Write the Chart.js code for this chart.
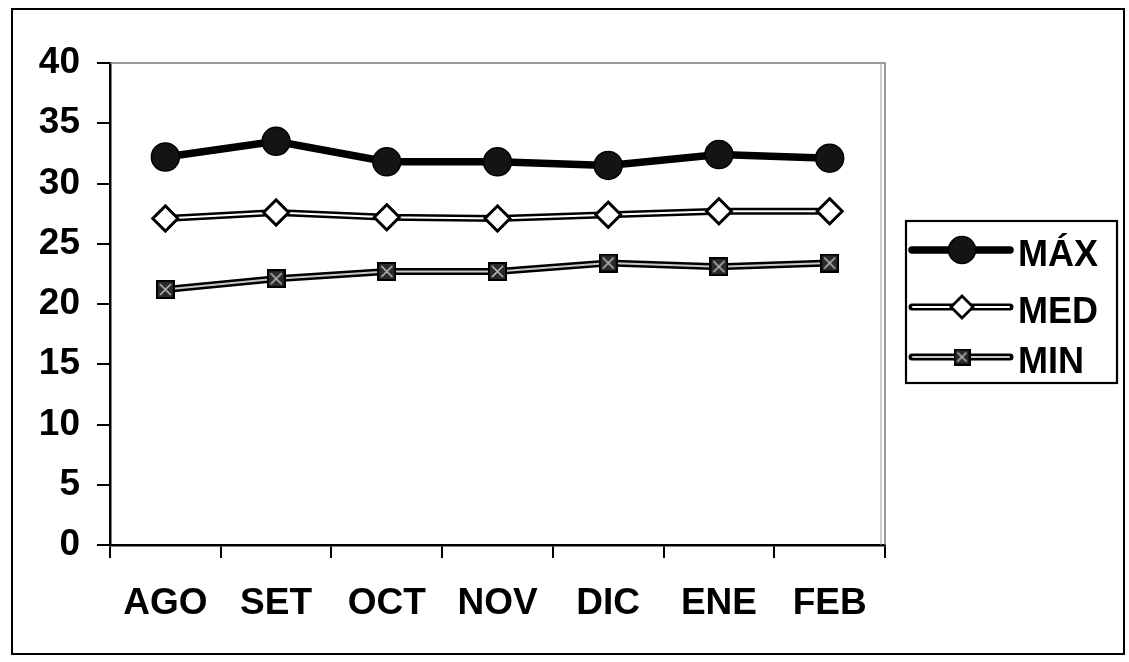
<!DOCTYPE html>
<html>
<head>
<meta charset="utf-8">
<script src="https://cdn.jsdelivr.net/npm/chart.js@4/dist/chart.umd.min.js"></script>
<style>
  html, body { margin: 0; padding: 0; background: #fff; }
  #wrap { position: relative; width: 1129px; height: 662px; }
  #frame { position: absolute; left: 11px; top: 8px; width: 1110px; height: 643px; border: 2.5px solid #000; pointer-events: none; }
  canvas { position: absolute; left: 0; top: 0; }
</style>
</head>
<body>
<div id="wrap">
  <canvas id="c" width="1129" height="662"></canvas>
  <div id="frame"></div>
</div>
<script>
// ---- data ----
const categories = ['AGO', 'SET', 'OCT', 'NOV', 'DIC', 'ENE', 'FEB'];
const maxValues = [32.2, 33.5, 31.8, 31.8, 31.5, 32.4, 32.1];
const medValues = [27.1, 27.6, 27.2, 27.1, 27.4, 27.7, 27.7];
const minValues = [21.2, 22.1, 22.7, 22.7, 23.4, 23.1, 23.4];
const seriesLabels = ['MÁX', 'MED', 'MIN'];
const yTickValues = [0, 5, 10, 15, 20, 25, 30, 35, 40];

const FONT = '"Liberation Sans", Arial, Helvetica, sans-serif';

// square marker with a light X for MIN
function makeCrossSquare(size) {
  const c = document.createElement('canvas');
  c.width = size; c.height = size;
  const g = c.getContext('2d');
  g.fillStyle = '#2a2a2a';
  g.fillRect(0, 0, size, size);
  g.strokeStyle = '#b8b8b8';
  g.lineWidth = 1.6;
  g.beginPath();
  g.moveTo(4, 4); g.lineTo(size - 4, size - 4);
  g.moveTo(size - 4, 4); g.lineTo(4, size - 4);
  g.stroke();
  g.strokeStyle = '#000';
  g.lineWidth = 2;
  g.strokeRect(1, 1, size - 2, size - 2);
  return c;
}
const minMarker = makeCrossSquare(19);
const minMarkerLegend = makeCrossSquare(17);

// inner stripe for double lines, then redraw points on top
const innerLinePlugin = {
  id: 'innerLine',
  afterDatasetDraw(chart, args) {
    const ds = chart.data.datasets[args.index];
    if (!ds.innerColor) return;
    const meta = args.meta;
    const ctx = chart.ctx;
    ctx.save();
    ctx.strokeStyle = ds.innerColor;
    ctx.lineWidth = ds.innerWidth;
    ctx.lineJoin = 'round';
    ctx.beginPath();
    meta.data.forEach((p, i) => { if (i === 0) ctx.moveTo(p.x, p.y); else ctx.lineTo(p.x, p.y); });
    ctx.stroke();
    ctx.restore();
    meta.data.forEach(p => p.draw(ctx, chart.chartArea));
  }
};

// plot-area gray border (top & right)
const plotBorderPlugin = {
  id: 'plotBorder',
  beforeDatasetsDraw(chart) {
    const a = chart.chartArea, ctx = chart.ctx;
    ctx.save();
    ctx.strokeStyle = '#7a7a7a';
    ctx.lineWidth = 1.5;
    ctx.beginPath();
    ctx.moveTo(a.left, a.top); ctx.lineTo(a.right, a.top); ctx.lineTo(a.right, a.bottom);
    ctx.stroke();
    ctx.strokeStyle = '#9a9a9a';
    ctx.lineWidth = 1;
    ctx.beginPath();
    ctx.moveTo(a.right - 4, a.top); ctx.lineTo(a.right - 4, a.bottom);
    ctx.stroke();
    ctx.restore();
  }
};

// legend with line + marker samples
const lineLegendPlugin = {
  id: 'lineLegend',
  afterDraw(chart) {
    const ctx = chart.ctx;
    const bx = 906, by = 221, bw = 211, bh = 162;
    ctx.save();
    ctx.strokeStyle = '#000';
    ctx.lineWidth = 2.2;
    ctx.strokeRect(bx, by, bw, bh);
    const rows = [250, 307, 357];
    chart.data.datasets.forEach((ds, i) => {
      const y = rows[i];
      ctx.strokeStyle = ds.borderColor;
      ctx.lineWidth = ds.borderWidth;
      ctx.lineCap = 'round';
      ctx.beginPath(); ctx.moveTo(912, y); ctx.lineTo(1010, y); ctx.stroke();
      if (ds.innerColor) {
        ctx.strokeStyle = ds.innerColor;
        ctx.lineWidth = ds.innerWidth;
        ctx.beginPath(); ctx.moveTo(913, y); ctx.lineTo(1009, y); ctx.stroke();
      }
      ctx.lineCap = 'butt';
      ctx.fillStyle = ds.pointBackgroundColor;
      ctx.strokeStyle = ds.pointBorderColor;
      ctx.lineWidth = ds.pointBorderWidth;
      Chart.helpers.drawPoint(ctx, {
        pointStyle: ds.legendPointStyle || ds.pointStyle,
        radius: ds.legendRadius,
        rotation: 0,
        borderWidth: ds.pointBorderWidth
      }, 962, y);
      ctx.fillStyle = '#000';
      ctx.font = 'bold 36px ' + FONT;
      ctx.textAlign = 'left';
      ctx.textBaseline = 'middle';
      ctx.fillText(ds.label, 1018, y + 6);
    });
    ctx.restore();
  }
};

new Chart(document.getElementById('c'), {
  type: 'line',
  data: {
    labels: categories,
    datasets: [
      {
        label: seriesLabels[0], data: maxValues,
        borderColor: '#000', borderWidth: 7.5,
        pointStyle: 'circle', pointRadius: 14, legendRadius: 13.5,
        pointBackgroundColor: '#141414', pointBorderColor: '#000', pointBorderWidth: 1.5,
        tension: 0
      },
      {
        label: seriesLabels[1], data: medValues,
        borderColor: '#000', borderWidth: 7, innerColor: '#fff', innerWidth: 2,
        pointStyle: 'rectRot', pointRadius: 12.5, legendRadius: 11,
        pointBackgroundColor: '#fff', pointBorderColor: '#000', pointBorderWidth: 2.8,
        tension: 0
      },
      {
        label: seriesLabels[2], data: minValues,
        borderColor: '#000', borderWidth: 7, innerColor: '#c8c8c8', innerWidth: 2,
        pointStyle: minMarker, legendPointStyle: minMarkerLegend, pointRadius: 10, legendRadius: 9,
        pointBackgroundColor: '#2a2a2a', pointBorderColor: '#000', pointBorderWidth: 1.5,
        tension: 0
      }
    ]
  },
  options: {
    responsive: false,
    animation: false,
    events: [],
    layout: { padding: { top: 63, right: 244, left: 0, bottom: 0 } },
    plugins: { legend: { display: false }, tooltip: { enabled: false } },
    scales: {
      x: {
        offset: true,
        grid: { offset: true, drawOnChartArea: false, drawTicks: true, tickLength: 13, color: '#000', lineWidth: 2 },
        border: { display: true, color: '#000', width: 2.5 },
        ticks: { color: '#000', padding: 24, maxRotation: 0, autoSkip: false,
          font: { family: FONT, size: 37, weight: 'bold' } },
        afterFit(scale) { scale.height = 117; }
      },
      y: {
        min: 0, max: 40,
        afterBuildTicks(scale) { scale.ticks = yTickValues.map(v => ({ value: v })); },
        grid: { drawOnChartArea: false, drawTicks: true, tickLength: 13, color: '#000', lineWidth: 2 },
        border: { display: true, color: '#000', width: 2.5 },
        ticks: { color: '#000', padding: 17,
          font: { family: FONT, size: 37, weight: 'bold' } },
        afterFit(scale) { scale.width = 110; }
      }
    }
  },
  plugins: [plotBorderPlugin, innerLinePlugin, lineLegendPlugin]
});
</script>
</body>
</html>
